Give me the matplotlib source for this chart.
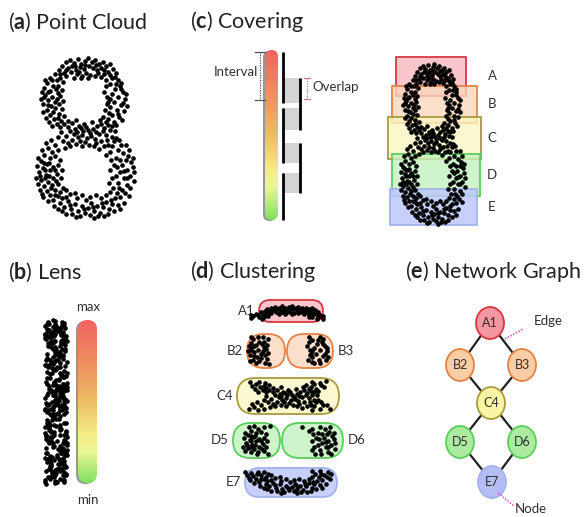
import numpy as np
import matplotlib
matplotlib.use("Agg")
import matplotlib.pyplot as plt
from matplotlib.patches import FancyBboxPatch, Ellipse, Rectangle
from matplotlib.colors import LinearSegmentedColormap

plt.rcParams['font.family'] = ['Lato', 'DejaVu Sans']
plt.rcParams['mathtext.fontset'] = 'custom'
plt.rcParams['mathtext.rm'] = 'Lato'
plt.rcParams['mathtext.bf'] = 'Lato:bold'

# ---------------- data ----------------
# figure-eight point cloud (x, y), y grows downward
top_loop_points = [
    (62,66),(66,62),(70,60),(74,63),(78,59),(81,64),(85,61),(88,58),(92,62),(95,60),
    (99,64),(103,62),(106,66),(110,64),(113,69),(68,68),(72,66),(76,70),(80,67),(84,69),
    (89,66),(93,68),(97,70),(101,68),(71,72),(77,74),(86,73),(64,73),(59,70),(108,72),
    (116,73),(104,74),(90,75),(82,76),
    (55,74),(50,78),(57,80),(47,83),(53,86),(44,88),(50,91),(56,89),(45,95),(52,97),
    (48,100),(57,99),(43,104),(51,106),(47,110),(55,108),(50,115),(46,118),(54,119),(59,114),
    (57,124),(52,126),(61,121),(49,122),(44,97),(58,93),(42,92),
    (112,78),(118,80),(110,84),(120,86),(115,89),(123,92),(112,94),(118,97),(125,99),(114,102),
    (121,105),(110,107),(117,110),(124,111),(112,115),(119,117),(108,119),(114,122),(121,89),(107,97),
    (116,84),
    (60,78),(63,82),(58,86),(62,90),(60,96),(63,101),(59,104),(62,109),(58,118),(64,116),
    (66,76),(74,78),(81,78),(88,78),(95,76),(101,77),(106,80),(98,73),(79,72),(85,65),
    (75,66),(96,65),(104,70),(106,86),(104,92),(108,102),(105,110),(109,113),(103,117),(107,104),
    (110,99),(45,80),(41,99),(48,105),(43,112),(53,112),(48,92),(55,102),(52,80),(60,74),
    (66,70),(110,75),(115,77),(121,83),(126,94),(123,103),(127,106),(118,114),(122,120),(116,125),
]
crossing_points = [
    (64,124),(68,127),(72,123),(75,129),(79,126),(83,131),(86,127),(90,133),(93,129),(97,126),
    (101,124),(104,128),(108,125),(70,131),(74,134),(78,137),(82,135),(87,138),(91,136),(95,139),
    (99,134),(103,131),(106,135),(110,130),(66,136),(61,132),(85,142),(80,141),(96,143),(72,140),
    (101,141),(107,140),(112,137),(63,141),(89,145),
    (65,148),(70,146),(104,146),(99,149),(76,144),
    (68,121),(76,120),(84,124),(92,122),(100,120),(106,122),(112,126),(115,131),(116,138),(60,127),
    (58,137),(68,143),(94,146),(108,145),(82,146),(77,132),(88,130),(96,132),(81,128),
]
bottom_loop_points = [
    (55,145),(48,148),(52,152),(44,155),(50,158),(41,161),(47,164),(55,156),(43,168),(50,170),
    (39,172),(46,175),(53,167),(58,150),(42,150),(60,160),
    (41,180),(48,182),(44,186),(52,185),(40,190),(47,191),(55,190),(50,195),(43,197),(58,196),
    (53,200),(45,178),(38,184),(56,181),
    (60,203),(64,207),(68,201),(71,209),(75,204),(78,211),(82,206),(85,213),(88,208),(91,203),
    (94,211),(97,206),(100,213),(103,207),(106,202),(109,209),(112,204),(115,198),(118,205),(62,211),
    (72,214),(80,216),(90,215),(98,216),(66,197),(86,200),(108,214),(120,197),(77,198),
    (122,190),(127,185),(118,183),(124,178),(130,176),(120,172),(127,170),(133,167),(116,176),(125,193),
    (130,188),(122,165),
    (118,150),(112,146),(123,153),(116,158),(126,160),(110,152),(121,145),(128,156),(114,141),(131,162),
    (58,165),(62,170),(57,174),(61,178),(58,184),(63,188),(60,192),(66,190),(70,194),(75,193),
    (82,195),(90,197),(96,195),(101,198),(106,195),(110,192),(113,188),(109,183),(112,178),(110,170),
    (114,165),(111,160),(106,155),
    (37,166),(36,178),(38,158),(42,194),(48,201),(54,206),(58,209),(66,214),(76,217),(94,218),
    (104,216),(114,211),(120,209),(124,203),(129,196),(134,181),(134,172),(133,158),(129,150),(126,145),
    (119,140),(46,143),(51,140),(40,176),(44,163),(49,176),(53,178),(51,188),
    (70,205),(84,209),(93,207),(102,203),(111,200),(117,193),(119,188),(127,178),(124,171),(120,160),
    (117,167),(45,170),(49,163),(55,170),(55,195),(62,198),
]

# covering of the lens range (same units as the cloud y)
cover_names = ['A', 'B', 'C', 'D', 'E']
cover_lo = [51, 80, 111, 148, 183]
cover_hi = [90, 117, 153, 190, 219]

# lens intervals drawn beside the lens bar
interval_lo = [52, 78, 108, 143, 173]
interval_hi = [103, 130, 163, 193, 220]

# clusters found inside each cover element
cluster_names = ['A1', 'B2', 'B3', 'C4', 'D5', 'D6', 'E7']
cluster_cover = [0, 1, 1, 2, 3, 3, 4]
cluster_side = ['all', 'left', 'right', 'all', 'left', 'right', 'all']

# nerve of the clustering
graph_edges = [('A1', 'B2'), ('A1', 'B3'), ('B2', 'C4'), ('B3', 'C4'),
               ('C4', 'D5'), ('C4', 'D6'), ('D5', 'E7'), ('D6', 'E7')]

# ---------------- styling ----------------
def rgb(r, g, b, a=1.0):
    return (r / 255, g / 255, b / 255, a)

cover_face = [rgb(248, 185, 190, 0.8), rgb(250, 215, 190, 0.8), rgb(250, 245, 195, 0.8),
              rgb(195, 242, 190, 0.8), rgb(190, 200, 250, 0.85)]
cover_edge = [rgb(215, 55, 65), rgb(228, 130, 70), rgb(170, 155, 60),
              rgb(90, 205, 90), rgb(165, 178, 240)]
cluster_face = [cover_face[i] for i in cluster_cover]
cluster_edge = [cover_edge[i] for i in cluster_cover]
node_face = [rgb(245, 150, 160), rgb(250, 205, 165), rgb(250, 205, 165), rgb(250, 245, 165),
             rgb(170, 235, 160), rgb(170, 235, 160), rgb(180, 190, 245)]

lens_cmap = LinearSegmentedColormap.from_list('lens', [
    (0.0, rgb(242, 98, 98)), (0.3, rgb(238, 150, 95)), (0.5, rgb(236, 190, 100)),
    (0.7, rgb(245, 235, 135)), (0.8, rgb(238, 246, 150)), (1.0, rgb(128, 225, 95))])

TXT = '#303030'
DOT = dict(s=11, c='black', linewidths=0, zorder=5)

all_pts = np.array(top_loop_points + crossing_points + bottom_loop_points, dtype=float)
cx, cy = all_pts[:, 0], all_pts[:, 1]
x_min, x_max = cx.min(), cx.max()
y_min, y_max = cy.min(), cy.max()

fig = plt.figure(figsize=(5.84, 5.17), dpi=100)
ax = fig.add_axes([0, 0, 1, 1])
ax.axis('off')


def title(x, y, letter, text):
    ax.text(x, y, '(' + r'$\mathbf{' + letter + '}$' + ') ' + text, fontsize=15.5,
            color='#222222', ha='left', va='center')


def lens_bar(x0, y0, w, h):
    shadow = FancyBboxPatch((x0 - 2, y0 + 1), w, h,
                            boxstyle=f'round,pad=0,rounding_size={w / 2}',
                            fc=rgb(150, 150, 150), ec='none', zorder=2)
    ax.add_patch(shadow)
    frame = FancyBboxPatch((x0, y0), w, h, boxstyle=f'round,pad=0,rounding_size={w / 2}',
                           fc='none', ec='none', zorder=3)
    ax.add_patch(frame)
    grad = np.linspace(0, 1, 256).reshape(-1, 1)
    im = ax.imshow(grad, cmap=lens_cmap, extent=(x0, x0 + w, y0 + h, y0), origin='upper',
                   aspect='auto', zorder=3, interpolation='bilinear')
    im.set_clip_path(frame)


# ---- (a) point cloud ----
title(8, 22, 'a', 'Point Cloud')
ax.scatter(cx, cy, **DOT)

# ---- (b) lens: points placed by lens value, spread sideways in a narrow strip ----
title(8, 272, 'b', 'Lens')
bx = 45 + np.mod(cx * 7 + cy * 3, 23)
by = 320 + (cy - y_min) / (y_max - y_min) * 164
ax.scatter(bx, by, **DOT)
lens_bar(78, 320, 19, 163)
ax.text(88, 307, 'max', fontsize=9.5, color=TXT, ha='center', va='center')
ax.text(88, 500, 'min', fontsize=9.5, color=TXT, ha='center', va='center')

# ---- (c) covering ----
title(190, 22, 'c', 'Covering')
lens_bar(265, 50, 13, 170)
left_x, right_x = 283, 300
for i, (lo, hi) in enumerate(zip(interval_lo, interval_hi)):
    if i + 1 < len(interval_lo):
        ax.add_patch(Rectangle((left_x, interval_lo[i + 1]), right_x - left_x,
                               hi - interval_lo[i + 1], fc=rgb(212, 212, 212), ec='none', zorder=2))
for i, (lo, hi) in enumerate(zip(interval_lo, interval_hi)):
    xx = left_x if i % 2 == 0 else right_x
    ax.plot([xx, xx], [lo, hi], color='black', lw=2.0, solid_capstyle='butt', zorder=4)

# interval bracket
ax.plot([260, 260], [interval_lo[0], 100], color='#555555', lw=0.9, ls=(0, (1, 1)), zorder=4)
for yy in (interval_lo[0], 100):
    ax.plot([255, 265], [yy, yy], color='#555555', lw=0.9, zorder=4)
ax.text(258, 72, 'Interval', fontsize=9.5, color=TXT, ha='right', va='center')
# overlap bracket
ovl_lo, ovl_hi = interval_lo[1], 99
ax.plot([307, 307], [ovl_lo, ovl_hi], color=rgb(200, 120, 150), lw=0.9, ls=(0, (1, 1)), zorder=4)
for yy in (ovl_lo, ovl_hi):
    ax.plot([304, 310], [yy, yy], color=rgb(200, 120, 150), lw=0.9, zorder=4)
ax.text(312, 87, 'Overlap', fontsize=9.5, color=TXT, ha='left', va='center')

# covered cloud
c_off = 6
ccx = 400 + (cx - x_min) / (x_max - x_min) * 65
ccy = cy + c_off
rect_x = [(396, 466), (392, 477), (388, 481), (392, 480), (390, 477)]
for i, name in enumerate(cover_names):
    x0, x1 = rect_x[i]
    y0, y1 = cover_lo[i] + c_off, cover_hi[i] + c_off
    ax.add_patch(Rectangle((x0, y0), x1 - x0, y1 - y0, fc=cover_face[i], ec=cover_edge[i],
                           lw=1.3, zorder=2 + i * 0.01))
    ax.text(492, (y0 + y1) / 2, name, fontsize=9.5, color=TXT, ha='center', va='center')
ax.scatter(ccx, ccy, **DOT)

# ---- (d) clustering ----
title(190, 272, 'd', 'Clustering')
pills = {'A1': (259, 323, 300, 322), 'B2': (247, 285, 334, 368), 'B3': (287, 333, 334, 368),
         'C4': (237, 339, 378, 414), 'D5': (233, 280, 423, 458), 'D6': (282, 343, 423, 458),
         'E7': (245, 337, 468, 497)}
label_side = {'A1': 'left', 'B2': 'left', 'B3': 'right', 'C4': 'left', 'D5': 'left',
              'D6': 'right', 'E7': 'left'}
mid_x = (x_min + x_max) / 2
for k, name in enumerate(cluster_names):
    x0, x1, y0, y1 = pills[name]
    h = y1 - y0
    ax.add_patch(FancyBboxPatch((x0, y0), x1 - x0, h,
                                boxstyle=f'round,pad=0,rounding_size={h / 2}',
                                fc=cluster_face[k], ec=cluster_edge[k], lw=1.3, zorder=2))
    lo, hi = cover_lo[cluster_cover[k]], cover_hi[cluster_cover[k]]
    sel = (cy >= lo) & (cy < hi)
    if cluster_side[k] == 'left':
        sel &= cx < mid_x
    elif cluster_side[k] == 'right':
        sel &= cx >= mid_x
    px = 243 + (cx[sel] - x_min) * (92 / (x_max - x_min))
    py = y0 + 3 + (cy[sel] - lo) / (hi - lo) * (h - 6)
    ax.scatter(px, py, **DOT)
    if label_side[name] == 'left':
        ax.text(x0 - 4, (y0 + y1) / 2, name, fontsize=9.5, color=TXT, ha='right', va='center')
    else:
        ax.text(x1 + 5, (y0 + y1) / 2, name, fontsize=9.5, color=TXT, ha='left', va='center')

# ---- (e) network graph ----
title(405, 272, 'e', 'Network Graph')
node_xy = {'A1': (490, 323), 'B2': (460, 365), 'B3': (522, 365), 'C4': (491, 403),
           'D5': (460, 442), 'D6': (522, 442), 'E7': (492, 482)}
for a, b in graph_edges:
    (xa, ya), (xb, yb) = node_xy[a], node_xy[b]
    ax.plot([xa, xb], [ya, yb], color='#222222', lw=1.6, zorder=2)
for k, name in enumerate(cluster_names):
    x, y = node_xy[name]
    ax.add_patch(Ellipse((x, y), 28, 32, fc=node_face[k], ec=cluster_edge[k], lw=1.3, zorder=3))
    ax.text(x, y, name, fontsize=9, color=TXT, ha='center', va='center', zorder=4)
ax.plot([505, 523], [339, 329], color=rgb(230, 70, 200), lw=1.1, ls=(0, (1, 1)), zorder=4)
ax.text(534, 321, 'Edge', fontsize=9.5, color=TXT, ha='left', va='center')
ax.plot([498, 514], [493, 506], color=rgb(230, 70, 200), lw=1.1, ls=(0, (1, 1)), zorder=4)
ax.text(515, 509, 'Node', fontsize=9.5, color=TXT, ha='left', va='center')

ax.set_xlim(0, 584)
ax.set_ylim(517, 0)
fig.savefig('out.png', dpi=100)
